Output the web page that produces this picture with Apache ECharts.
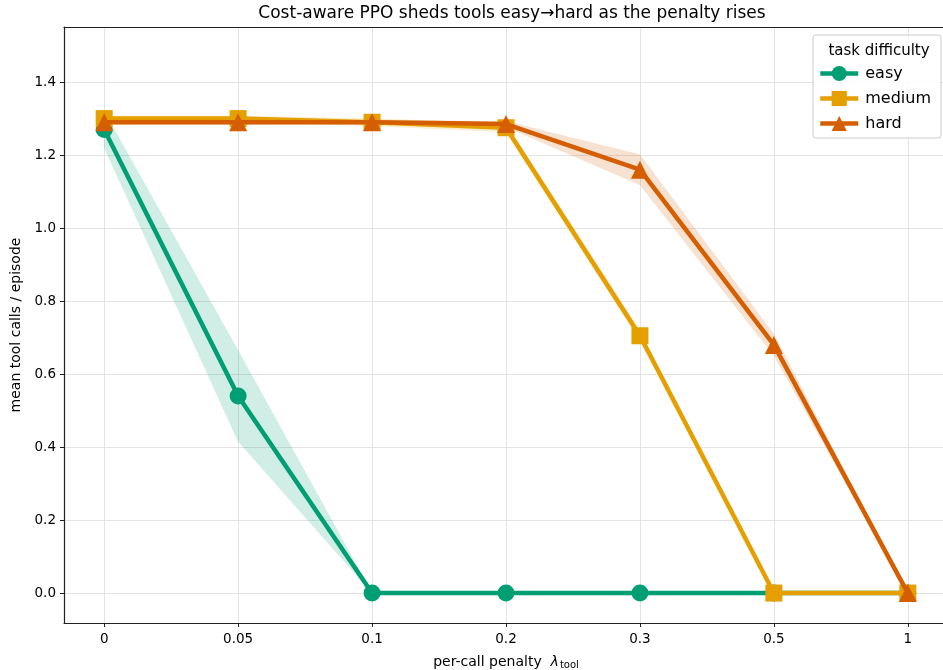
<!DOCTYPE html>
<html>
<head>
<meta charset="utf-8">
<script src="https://cdn.jsdelivr.net/npm/echarts@6/dist/echarts.min.js"></script>
<style>
  html, body { margin: 0; padding: 0; background: #fff; }
  #chart { width: 943px; height: 670px; }
</style>
</head>
<body>
<div id="chart"></div>
<script>
// Per-call penalty levels (plotted as evenly spaced categories)
const penalties = ['0', '0.05', '0.1', '0.2', '0.3', '0.5', '1'];

// Mean tool calls per episode, by task difficulty
const easyMean   = [1.27, 0.54, 0.0, 0.0, 0.0, 0.0, 0.0];
const mediumMean = [1.30, 1.30, 1.29, 1.275, 0.705, 0.0, 0.0];
const hardMean   = [1.29, 1.29, 1.29, 1.285, 1.16, 0.68, 0.0];

// Spread around each mean (half-width of the shaded band)
const easySpread   = [0.05, 0.125, 0.0, 0.0, 0.0, 0.0, 0.0];
const mediumSpread = [0.008, 0.008, 0.01, 0.012, 0.015, 0.0, 0.0];
const hardSpread   = [0.006, 0.006, 0.006, 0.008, 0.042, 0.03, 0.0];

const yTicks = [0, 0.2, 0.4, 0.6, 0.8, 1.0, 1.2, 1.4];

const COLORS = { easy: '#009E73', medium: '#E69F00', hard: '#D55E00' };
const FONT = 'DejaVu Sans';

function points(mean) {
  return mean.map((v, i) => [i, v]);
}

// Shaded mean ± spread band, drawn once as a polygon through the axis scales
function bandSeries(name, mean, spread, color, z) {
  const rows = mean.map((v, i) => [i, v - spread[i], v + spread[i]]);
  return {
    type: 'custom',
    name: name + ' band',
    silent: true,
    z: z,
    encode: { x: 0, y: [1, 2] },
    data: rows,
    renderItem: function (params, api) {
      if (params.dataIndex !== 0) return null;
      const upper = rows.map(r => api.coord([r[0], r[2]]));
      const lower = rows.map(r => api.coord([r[0], r[1]])).reverse();
      return {
        type: 'polygon',
        shape: { points: upper.concat(lower) },
        style: { fill: color, opacity: 0.18, stroke: color, lineWidth: 0.8, strokeOpacity: 0.25 }
      };
    }
  };
}

function lineSeries(name, mean, color, symbol, size, z) {
  return {
    type: 'line',
    name: name,
    data: points(mean),
    symbol: symbol,
    symbolSize: size,
    showAllSymbol: true,
    z: z,
    lineStyle: { color: color, width: 4.5 },
    itemStyle: { color: color },
    emphasis: { disabled: true },
    animation: false
  };
}

const chart = echarts.init(document.getElementById('chart'), null, { renderer: 'canvas' });

const idx = penalties.map((_, i) => i);

chart.setOption({
  animation: false,
  backgroundColor: '#fff',
  textStyle: { fontFamily: FONT },
  title: [
    {
      text: 'Cost-aware PPO sheds tools easy→hard as the penalty rises',
      left: 507, top: 0, textAlign: 'center',
      textStyle: { fontFamily: FONT, fontSize: 17, fontWeight: 'normal', color: '#000' }
    },
    {
      text: 'task difficulty',
      left: 874, top: 39, textAlign: 'center',
      textStyle: { fontFamily: FONT, fontSize: 15, fontWeight: 'normal', color: '#000' }
    }
  ],
  legend: {
    data: ['easy', 'medium', 'hard'],
    orient: 'vertical',
    left: 813, top: 35,
    width: 128,
    padding: [29, 10, 5, 5],
    itemGap: 6,
    itemWidth: 38,
    itemHeight: 19,
    lineStyle: { width: 4.5 },
    backgroundColor: 'rgba(255,255,255,0.85)',
    borderColor: '#cccccc',
    borderWidth: 1,
    borderRadius: 3,
    textStyle: { fontFamily: FONT, fontSize: 16, color: '#000', padding: [0, 0, 0, 2], lineHeight: 19 }
  },
  grid: { left: 64, top: 27, width: 884, height: 596, containLabel: false, outerBoundsMode: 'none' },
  xAxis: [
    {
      type: 'value',
      min: -0.3, max: 6.3,
      position: 'bottom',
      name: 'per-call penalty  {lam|λ}{sub|tool}',
      nameLocation: 'middle',
      nameGap: 31,
      nameTextStyle: {
        fontFamily: FONT, fontSize: 14, color: '#000',
        rich: {
          lam: { fontFamily: FONT, fontSize: 14, fontStyle: 'italic', color: '#000' },
          sub: { fontFamily: FONT, fontSize: 10, color: '#000', verticalAlign: 'bottom', padding: [6, 0, 0, 1] }
        }
      },
      axisLine: { show: true, onZero: false, lineStyle: { color: '#222', width: 1.2 } },
      axisTick: { show: true, length: 4, customValues: idx, lineStyle: { color: '#222' } },
      axisLabel: {
        customValues: idx,
        formatter: v => penalties[Math.round(v)],
        fontFamily: FONT, fontSize: 13.5, color: '#000', margin: 9
      },
      splitLine: { show: true, lineStyle: { color: '#e3e3e3', width: 1 } }
    },
    {
      type: 'value',
      min: -0.3, max: 6.3,
      position: 'top',
      axisLine: { show: true, onZero: false, lineStyle: { color: '#222', width: 1.2 } },
      axisTick: { show: false },
      axisLabel: { show: false },
      splitLine: { show: false }
    }
  ],
  yAxis: {
    type: 'value',
    min: -0.082, max: 1.551,
    name: 'mean tool calls / episode',
    nameLocation: 'middle',
    nameGap: 41,
    nameTextStyle: { fontFamily: FONT, fontSize: 14, color: '#000' },
    axisLine: { show: true, onZero: false, lineStyle: { color: '#222', width: 1.2 } },
    axisTick: { show: true, length: 4, customValues: yTicks, lineStyle: { color: '#222' } },
    axisLabel: {
      customValues: yTicks,
      formatter: v => v.toFixed(1),
      fontFamily: FONT, fontSize: 13.5, color: '#000', margin: 8
    },
    splitLine: { show: true, lineStyle: { color: '#e3e3e3', width: 1 } }
  },
  series: [
    bandSeries('easy', easyMean, easySpread, COLORS.easy, 1),
    bandSeries('medium', mediumMean, mediumSpread, COLORS.medium, 1),
    bandSeries('hard', hardMean, hardSpread, COLORS.hard, 1),
    lineSeries('easy', easyMean, COLORS.easy, 'circle', 17, 3),
    lineSeries('medium', mediumMean, COLORS.medium, 'rect', 17, 4),
    lineSeries('hard', hardMean, COLORS.hard, 'triangle', 18, 5)
  ]
});
</script>
</body>
</html>
